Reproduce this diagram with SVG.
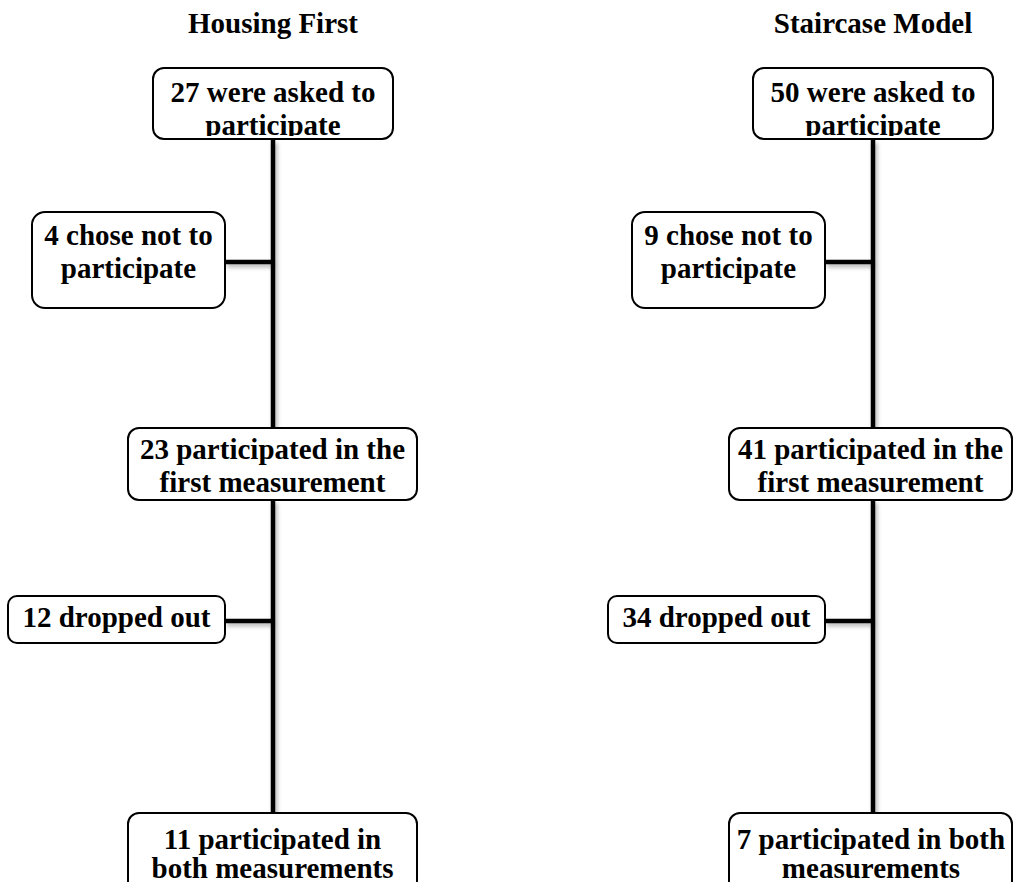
<svg xmlns="http://www.w3.org/2000/svg" width="1013" height="882" viewBox="0 0 1013 882">
<style>
  .box{fill:#fff;stroke:#000;stroke-width:2}
  .t{font-family:"Liberation Serif","Times New Roman",serif;font-weight:bold;font-size:29px;fill:#000;text-anchor:middle}
  .ln{stroke:#000;stroke-width:4.5;fill:none}
</style>
<defs>
  <filter id="sh" x="-20%" y="-20%" width="140%" height="140%">
    <feDropShadow dx="2" dy="3" stdDeviation="2" flood-color="#000" flood-opacity="0.3"/>
  </filter>
  <clipPath id="c1"><rect x="154" y="69" width="238" height="67"/></clipPath>
  <clipPath id="c2"><rect x="754" y="69" width="238" height="67"/></clipPath>
</defs>
<rect width="1013" height="882" fill="#fff"/>
<text class="t" x="273" y="33">Housing First</text>
<text class="t" x="873" y="33">Staircase Model</text>
<g id="connectors" filter="url(#sh)">
  <line class="ln" x1="273" y1="140" x2="273" y2="428"/>
  <line class="ln" x1="225" y1="262" x2="273" y2="262"/>
  <line class="ln" x1="273" y1="500" x2="273" y2="813"/>
  <line class="ln" x1="225" y1="621" x2="273" y2="621"/>
  <line class="ln" x1="873" y1="140" x2="873" y2="428"/>
  <line class="ln" x1="825" y1="262" x2="873" y2="262"/>
  <line class="ln" x1="873" y1="500" x2="873" y2="813"/>
  <line class="ln" x1="825" y1="621" x2="873" y2="621"/>
</g>
<g id="hf-asked">
  <rect class="box" x="153" y="68" width="240" height="71" rx="11"/>
  <g clip-path="url(#c1)">
    <text class="t" x="273" y="102">27 were asked to</text>
    <text class="t" x="273" y="135">participate</text>
  </g>
</g>
<g id="hf-chose">
  <rect class="box" x="32" y="212" width="193" height="96" rx="13"/>
  <text class="t" x="128.5" y="245">4 chose not to</text>
  <text class="t" x="128.5" y="278">participate</text>
</g>
<g id="hf-first">
  <rect class="box" x="128" y="428" width="289" height="72" rx="11"/>
  <text class="t" x="272.5" y="459">23 participated in the</text>
  <text class="t" x="272.5" y="492">first measurement</text>
</g>
<g id="hf-dropped">
  <rect class="box" x="8" y="596" width="217" height="47" rx="9"/>
  <text class="t" x="116.5" y="627">12 dropped out</text>
</g>
<g id="hf-both">
  <rect class="box" x="128" y="813" width="289" height="80" rx="11"/>
  <text class="t" x="272.5" y="849">11 participated in</text>
  <text class="t" x="272.5" y="878">both measurements</text>
</g>
<g id="sm-asked">
  <rect class="box" x="753" y="68" width="240" height="71" rx="11"/>
  <g clip-path="url(#c2)">
    <text class="t" x="873" y="102">50 were asked to</text>
    <text class="t" x="873" y="135">participate</text>
  </g>
</g>
<g id="sm-chose">
  <rect class="box" x="632" y="212" width="193" height="96" rx="13"/>
  <text class="t" x="728.5" y="245">9 chose not to</text>
  <text class="t" x="728.5" y="278">participate</text>
</g>
<g id="sm-first">
  <rect class="box" x="729" y="428" width="283" height="72" rx="11"/>
  <text class="t" x="870.5" y="459">41 participated in the</text>
  <text class="t" x="870.5" y="492">first measurement</text>
</g>
<g id="sm-dropped">
  <rect class="box" x="608" y="596" width="217" height="47" rx="9"/>
  <text class="t" x="716.5" y="627">34 dropped out</text>
</g>
<g id="sm-both">
  <rect class="box" x="729" y="813" width="283" height="80" rx="11"/>
  <text class="t" x="871" y="849">7 participated in both</text>
  <text class="t" x="871" y="878">measurements</text>
</g>
</svg>
